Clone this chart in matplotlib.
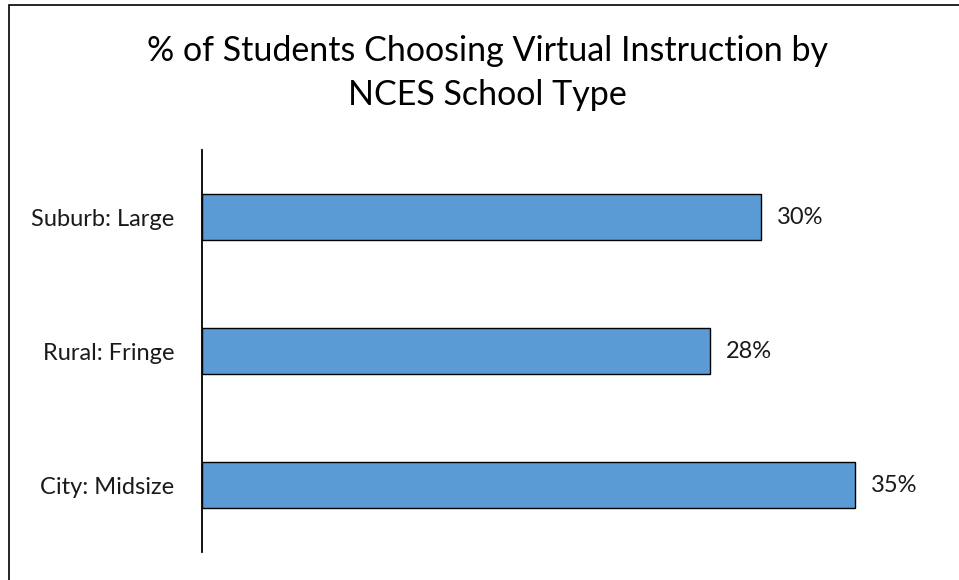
import matplotlib.pyplot as plt
from matplotlib.patches import Rectangle

# datos (orden de abajo hacia arriba)
categorias = ['City: Midsize', 'Rural: Fringe', 'Suburb: Large']
valores = [0.354, 0.2755, 0.303]
titulo = '% of Students Choosing Virtual Instruction by\nNCES School Type'

plt.rcParams['font.family'] = ['Lato', 'DejaVu Sans']

W, H = 959, 580
fig = plt.figure(figsize=(W / 100, H / 100), dpi=100)

# borde exterior del grafico
fig.patches.append(Rectangle((9 / W, -0.01), 1.0, 1 - 5 / H + 0.01,
                             transform=fig.transFigure, fill=False,
                             edgecolor='#000000', linewidth=1.2))

ax = fig.add_axes([202 / W, 1 - 552 / H, 701 / W, 402 / H])
barras = ax.barh(range(len(categorias)), valores, height=0.34,
                 color='#5B9BD5', edgecolor='#000000', linewidth=1.0)

for b, v in zip(barras, valores):
    ax.text(b.get_width() + 0.0087, b.get_y() + b.get_height() / 2,
            f'{round(v * 100):.0f}%', va='center', ha='left',
            fontsize=17, color='#1a1a1a')

ax.set_xlim(0, 0.38)
ax.set_ylim(-0.5, len(categorias) - 0.5)
ax.set_yticks(range(len(categorias)))
ax.set_yticklabels(categorias, fontsize=17, color='#1a1a1a')
ax.tick_params(axis='y', length=0, pad=20)
ax.set_xticks([])
for lado in ['top', 'right', 'bottom']:
    ax.spines[lado].set_visible(False)
ax.spines['left'].set_linewidth(1.3)

fig.text(487 / W, 1 - 35 / H, titulo, ha='center', va='top',
         fontsize=24.5, color='#000000', linespacing=1.45)

fig.savefig('out.png', dpi=100)
